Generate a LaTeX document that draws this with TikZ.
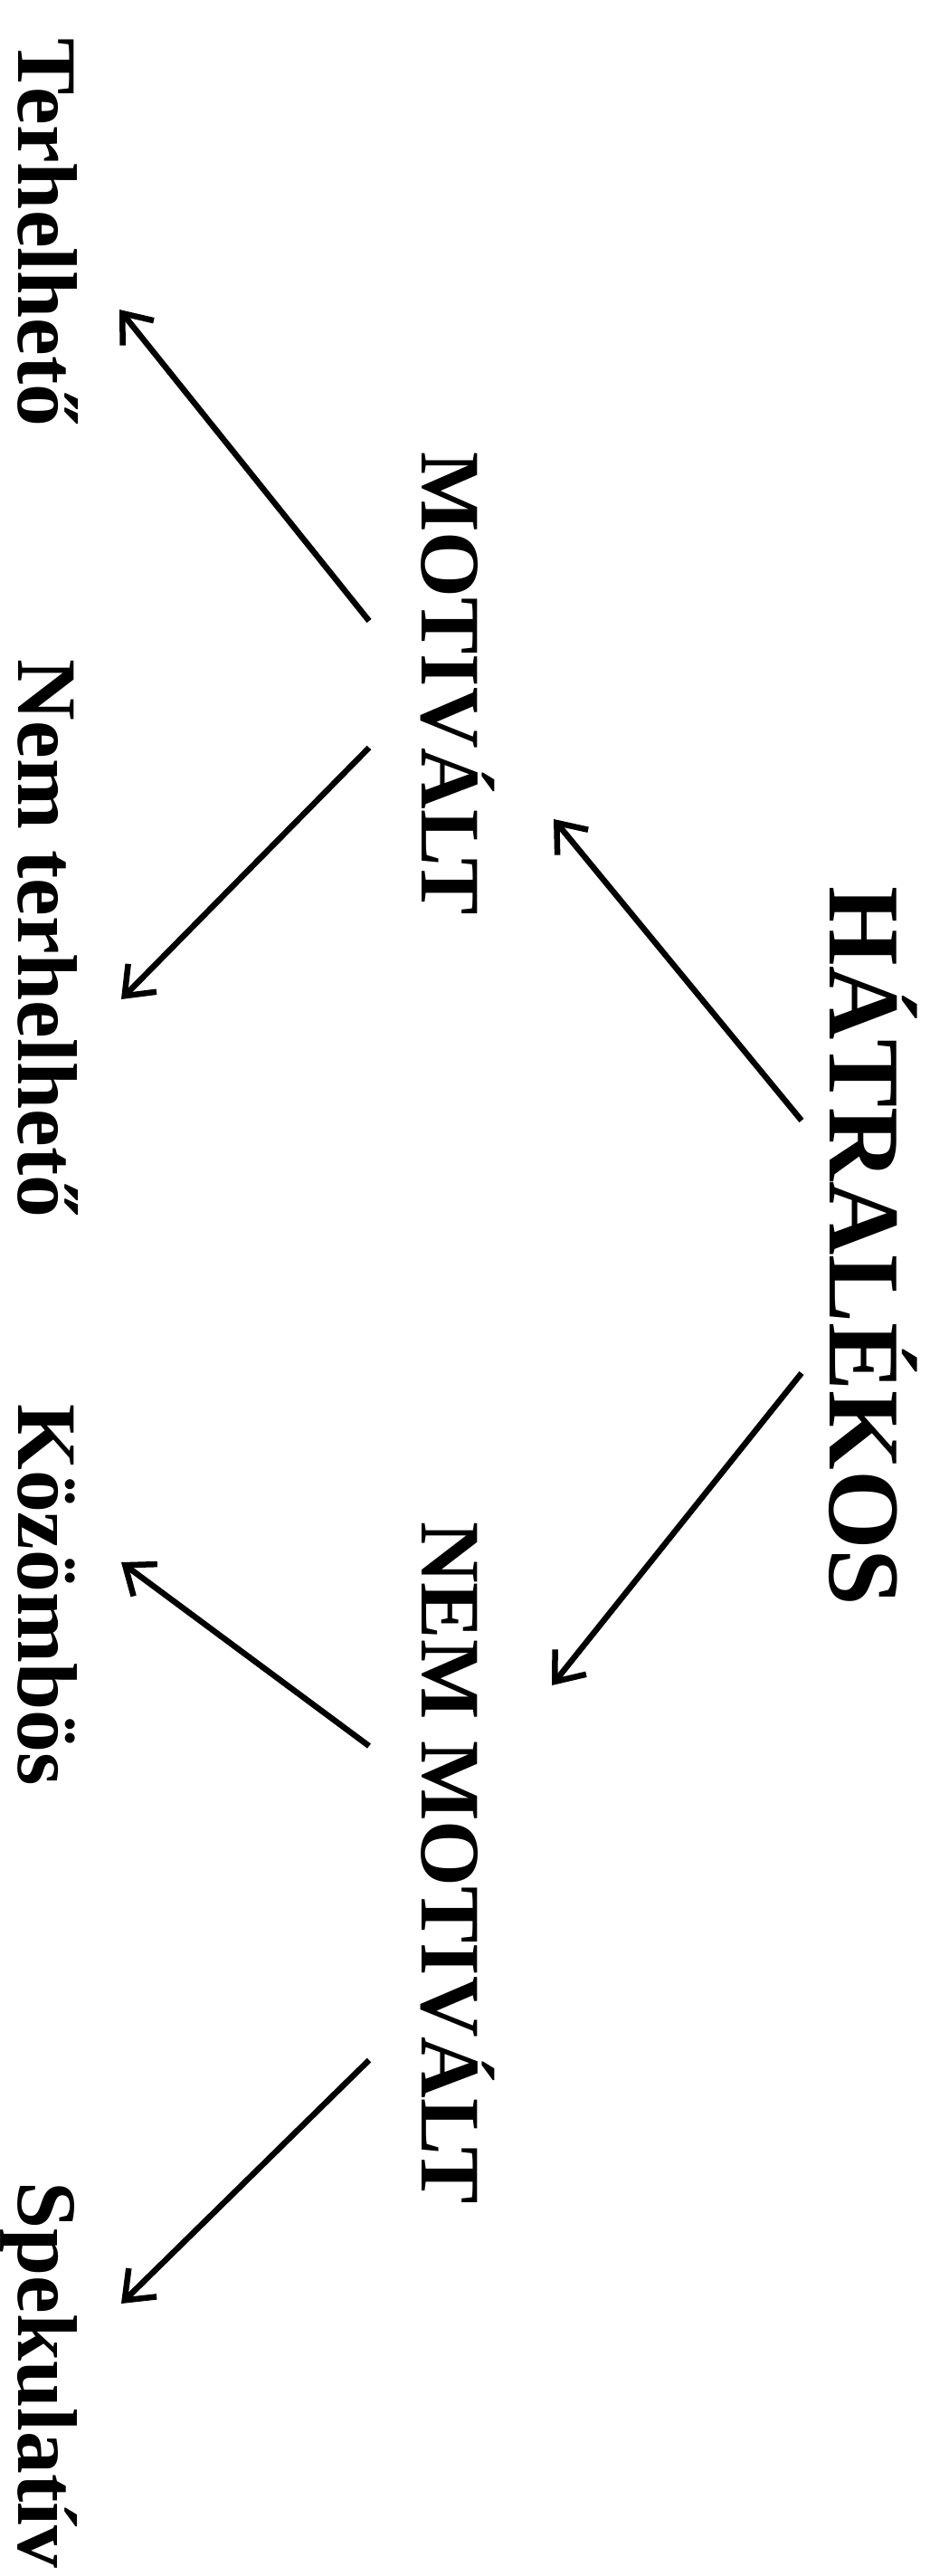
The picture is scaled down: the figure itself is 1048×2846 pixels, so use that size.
\documentclass[tikz,border=0pt]{standalone}
\usepackage{fontspec}
\setmainfont{Liberation Serif}
\usetikzlibrary{arrows.meta}
\begin{document}
\begin{tikzpicture}[x=1bp,y=-1bp,
  lbl/.style={inner sep=0pt, rotate=-90, anchor=base, font=\bfseries\fontsize{94}{94}\selectfont},
  top/.style={lbl, font=\bfseries\fontsize{113}{113}\selectfont},
  arr/.style={line width=6.5bp, -{Straight Barb[length=28bp,width=44bp,line width=6.5bp]}}]
\useasboundingbox (0,0) rectangle (1048,2846);
% root
\node[top] (hat) at (917,1377) {HÁTRALÉKOS};
% second level
\node[lbl] (mot) at (466,755) {MOTIVÁLT};
\node[lbl] (nmot) at (466,2058) {NEM MOTIVÁLT};
% leaves
\node[lbl] (ter) at (20,257) {Terhelhető};
\node[lbl] (nter) at (20,1037) {Nem terhelhető};
\node[lbl] (koz) at (20,1762) {Közömbös};
\node[lbl] (spek) at (20,2624) {Spekulatív};
% branches
\draw[arr] ([shift={(-31,-139)}]hat.base) -- ([shift={(146,150)}]mot.base);
\draw[arr] ([shift={(-31,140)}]hat.base) -- ([shift={(144,-196)}]nmot.base);
\draw[arr] ([shift={(-58,-69)}]mot.base) -- ([shift={(112,85)}]ter.base);
\draw[arr] ([shift={(-58,71)}]mot.base) -- ([shift={(114,67)}]nter.base);
\draw[arr] ([shift={(-58,-129)}]nmot.base) -- ([shift={(114,-36)}]koz.base);
\draw[arr] ([shift={(-58,218)}]nmot.base) -- ([shift={(114,-79)}]spek.base);
\end{tikzpicture}
\end{document}
